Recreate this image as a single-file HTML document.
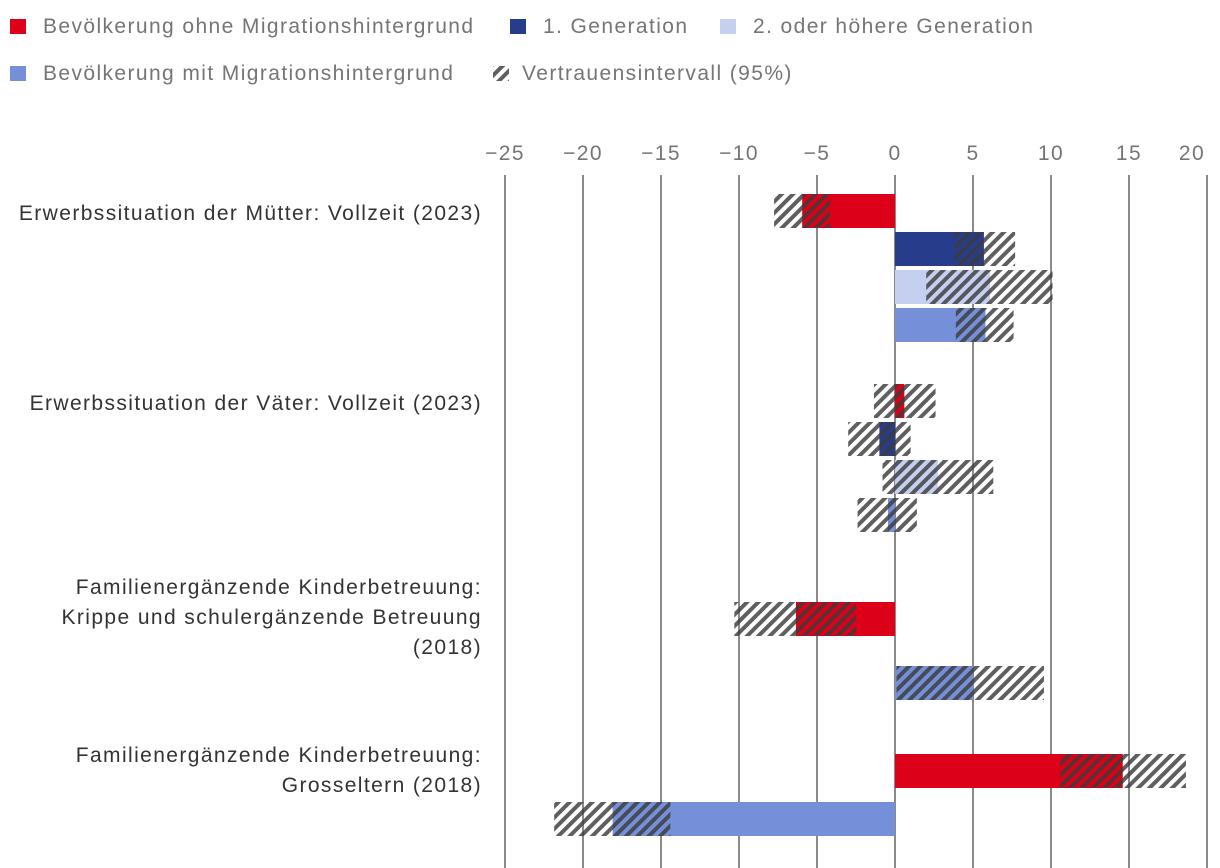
<!DOCTYPE html>
<html><head><meta charset="utf-8"><style>
body{margin:0;background:#fff;font-family:"Liberation Sans",sans-serif;}
svg{display:block}
text{letter-spacing:1.4px}
</style></head><body>
<svg id="chart" width="1220" height="868">
<defs>
<pattern id="hatch" patternUnits="userSpaceOnUse" width="8" height="8" patternTransform="rotate(45)">
<rect x="0" y="0" width="4" height="8" fill="#3c3c3c" fill-opacity="0.82"/>
</pattern>
</defs>
<g id="legend"></g>
<g id="grid"></g>
<g id="xticks"></g>
<g id="labels"></g>
<g id="bars"></g>
</svg>
<script>
const categories=[["Erwerbssituation der Mütter: Vollzeit (2023)"],["Erwerbssituation der Väter: Vollzeit (2023)"],["Familienergänzende Kinderbetreuung:","Krippe und schulergänzende Betreuung","(2018)"],["Familienergänzende Kinderbetreuung:","Grosseltern (2018)"]];
const seriesNames=["Bevölkerung ohne Migrationshintergrund","1. Generation","2. oder höhere Generation","Bevölkerung mit Migrationshintergrund"];
const values=[[-5.95,5.7,6.1,5.8],[0.6,-1.0,2.75,-0.45],[-6.35,null,null,5.0],[14.6,null,null,-18.1]];
const ciLow=[[-7.75,3.8,2.0,3.9],[-1.35,-3.0,-0.8,-2.4],[-10.3,null,null,0.1],[10.6,null,null,-21.85]];
const ciHigh=[[-4.15,7.7,10.1,7.6],[2.6,1.0,6.3,1.4],[-2.5,null,null,9.55],[18.65,null,null,-14.4]];
const ticks=[-25,-20,-15,-10,-5,0,5,10,15,20];
const colors=["#dc0018","#283c8c","#c5d0f0","#7590d8"];
const NS="http://www.w3.org/2000/svg";
function x(v){return 895+v*15.6;}
function mk(tag,attrs,parent){const e=document.createElementNS(NS,tag);for(const k in attrs)e.setAttribute(k,attrs[k]);parent.appendChild(e);return e;}
const G=id=>document.getElementById(id);
const legPos=[[10,26],[510,26],[720,26],[10,73],[493,73]];
const legNames=seriesNames.concat(["Vertrauensintervall (95%)"]);
[0,1,2,3,4].forEach((s,i)=>{const [lx,ly]=legPos[i];
 const g=mk('g',{},G('legend'));
 
 
 if(s<4) mk('rect',{x:lx,y:ly-7,width:16,height:15,fill:colors[s]},g);
 else mk('rect',{x:lx,y:ly-7,width:16,height:15,fill:'url(#hatch)'},g);
 const t=mk('text',{x:lx+(s<4?33:29),y:ly+7,'font-size':21,fill:'#757575'},g);t.textContent=legNames[s];
});
ticks.forEach(v=>{
 const l=mk('line',{x1:x(v),x2:x(v),y1:175,y2:868,stroke:'#8a8a8a','stroke-width':2},G('grid'));
 
 
 const t=mk('text',{x:Math.min(x(v),1192),y:160,'font-size':21,fill:'#757575','text-anchor':'middle'},G('xticks'));
 
 
 t.textContent=(v<0?'\u2212'+(-v):String(v));
});
const rowY=[[194,232,270,308],[384,422,460,498],[602,null,null,666],[754,null,null,802]];
const labelY=[[220],[410],[594,624,654],[762,792]];
categories.forEach((c,ci)=>{
 c.forEach((line,li)=>{const t=mk('text',{x:482,y:labelY[ci][li],'font-size':21,fill:'#333','text-anchor':'end'},G('labels'));
  
  
  t.textContent=line;});
 for(let s=0;s<4;s++){const v=values[ci][s];if(v==null)continue;const y=rowY[ci][s];
  const r=mk('rect',{x:Math.min(x(0),x(v)),y:y,width:Math.abs(x(v)-x(0)),height:34,fill:colors[s]},G('bars'));
  
  
  const h=mk('rect',{x:x(ciLow[ci][s]),y:y,width:x(ciHigh[ci][s])-x(ciLow[ci][s]),height:34,fill:'url(#hatch)'},G('bars'));
  
  
 }
});
</script>
</body></html>
